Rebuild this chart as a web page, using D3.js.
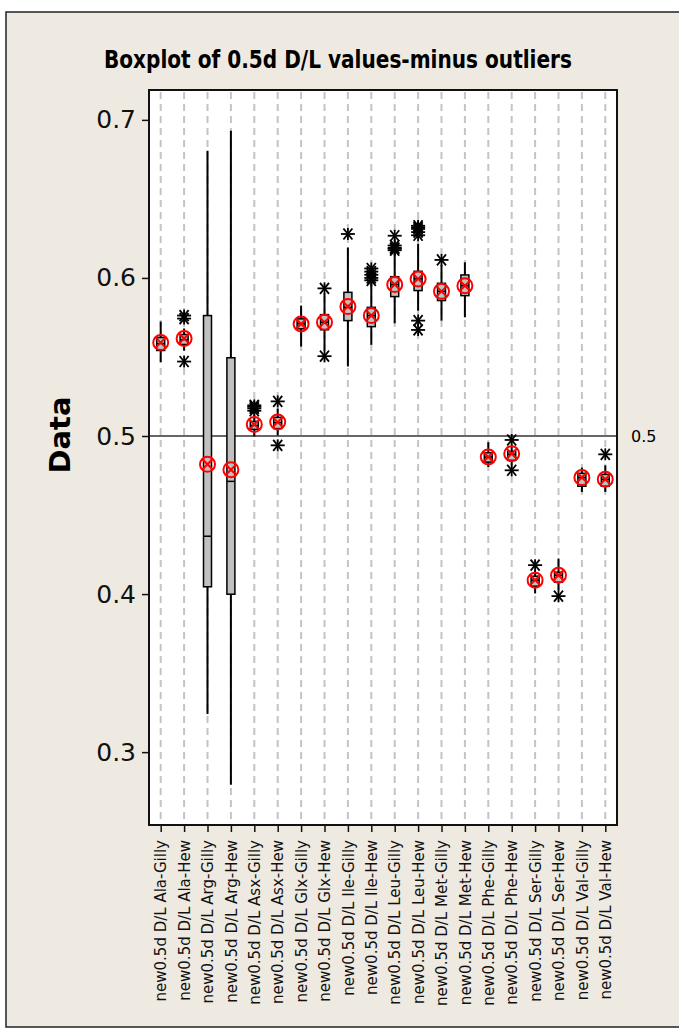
<html>
<head>
  <script src="https://d3js.org/d3.v7.min.js"></script>
  <style>
    body { margin: 0; background: white; font-family: "DejaVu Sans", sans-serif; }
  </style>
</head>
<body>
<svg id="chart" width="679" height="1033"></svg>
<script>
  // chart data
  const categories = ["Ala-Gilly", "Ala-Hew", "Arg-Gilly", "Arg-Hew", "Asx-Gilly", "Asx-Hew",
    "Glx-Gilly", "Glx-Hew", "Ile-Gilly", "Ile-Hew", "Leu-Gilly", "Leu-Hew",
    "Met-Gilly", "Met-Hew", "Phe-Gilly", "Phe-Hew", "Ser-Gilly", "Ser-Hew", "Val-Gilly", "Val-Hew"];
  const whiskerLow  = [0.5467, 0.554, 0.3241, 0.2793, 0.4997, 0.5004, 0.5566, 0.5541, 0.544, 0.5577,
                       0.5713, 0.5793, 0.573, 0.5751, 0.4804, 0.4818, 0.4004, 0.4025, 0.4646, 0.4646];
  const q1Values    = [0.5541, 0.5579, 0.4046, 0.3999, 0.5042, 0.5047, 0.5678, 0.5672, 0.573, 0.5692,
                       0.5882, 0.592, 0.5857, 0.5888, 0.4835, 0.4846, 0.405, 0.4075, 0.4682, 0.4682];
  const medians     = [0.5585, 0.561, 0.4366, 0.4713, 0.5067, 0.5085, 0.571, 0.572, 0.5814, 0.5762,
                       0.5958, 0.5994, 0.5915, 0.5951, 0.4867, 0.4885, 0.4088, 0.4119, 0.4737, 0.4726];
  const q3Values    = [0.5623, 0.5642, 0.5762, 0.5495, 0.5092, 0.5118, 0.5741, 0.5768, 0.5909, 0.5814,
                       0.6008, 0.6042, 0.5966, 0.6019, 0.4894, 0.4903, 0.4113, 0.4138, 0.4764, 0.4757];
  const whiskerHigh = [0.5724, 0.568, 0.6804, 0.6931, 0.5136, 0.5174, 0.5825, 0.5901, 0.6193, 0.5972,
                       0.6153, 0.6217, 0.608, 0.6099, 0.4961, 0.4935, 0.4151, 0.4225, 0.48, 0.4814];
  const means       = [0.5591, 0.5617, 0.4821, 0.4787, 0.5073, 0.5088, 0.5709, 0.572, 0.5819, 0.5762,
                       0.5958, 0.5994, 0.5915, 0.5951, 0.4867, 0.4888, 0.4088, 0.4119, 0.4737, 0.4726];
  const outliers = [
    [],
    [0.5743, 0.5762, 0.5471],
    [],
    [],
    [0.5194, 0.5175, 0.516, 0.5185],
    [0.5219, 0.4941],
    [],
    [0.5934, 0.5505],
    [0.6278],
    [0.606, 0.604, 0.602, 0.600, 0.5985],
    [0.6267, 0.6205, 0.619, 0.6175, 0.6185],
    [0.633, 0.631, 0.629, 0.627, 0.632, 0.573, 0.5671],
    [0.6114],
    [],
    [],
    [0.4975, 0.4783],
    [0.4183],
    [0.3987],
    [],
    [0.4884]
  ];
  const yTicks = [0.3, 0.4, 0.5, 0.6, 0.7];
  const refValue = 0.5;

  const svg = d3.select("#chart");
  const plot = { left: 149, top: 90, right: 617, bottom: 825 };

  // outer panel
  svg.append("rect").attr("x", 6).attr("y", 12).attr("width", 700).attr("height", 1015)
     .attr("fill", "#eeeae1").attr("stroke", "#222").attr("stroke-width", 1.5);

  svg.append("text")
     .attr("x", 338).attr("y", 68)
     .attr("text-anchor", "middle")
     .attr("textLength", 468).attr("lengthAdjust", "spacingAndGlyphs")
     .style("font-family", "'DejaVu Sans Condensed', sans-serif")
     .style("font-weight", "700").style("font-size", "24px")
     .text("Boxplot of 0.5d D/L values-minus outliers");

  const yScale = d3.scaleLinear().domain([0.2539, 0.7189]).range([plot.bottom, plot.top]);
  const xScale = d3.scalePoint().domain(categories).range([plot.left, plot.right]).padding(0.5);

  svg.append("rect").attr("x", plot.left).attr("y", plot.top)
     .attr("width", plot.right - plot.left).attr("height", plot.bottom - plot.top)
     .attr("fill", "white");

  // dashed grid at each category
  svg.append("g").selectAll("line").data(categories).join("line")
     .attr("x1", d => xScale(d)).attr("x2", d => xScale(d))
     .attr("y1", plot.top + 2).attr("y2", plot.bottom)
     .attr("stroke", "#c4c4c4").attr("stroke-width", 2).attr("stroke-dasharray", "7,5");

  // reference line
  svg.append("line").attr("x1", plot.left).attr("x2", plot.right)
     .attr("y1", yScale(refValue)).attr("y2", yScale(refValue))
     .attr("stroke", "#333").attr("stroke-width", 1.3);
  svg.append("text").attr("x", 631).attr("y", yScale(refValue)).attr("dy", "0.35em")
     .style("font-size", "16px").text("0.5");

  // axes
  const leftAxis = d3.axisLeft(yScale).tickValues(yTicks).tickFormat(d3.format(".1f")).tickSize(7).tickPadding(6);
  const ga = svg.append("g").attr("transform", `translate(${plot.left},0)`).call(leftAxis);
  ga.select(".domain").remove();
  ga.selectAll("line").attr("stroke", "#111").attr("stroke-width", 1.5);
  ga.selectAll("text").style("font-size", "25px").style("font-family", "'DejaVu Sans', sans-serif").attr("fill", "#111");

  const bottomAxis = d3.axisBottom(xScale).tickSize(7).tickFormat(d => "new0.5d D/L " + d);
  const gb = svg.append("g").attr("transform", `translate(0,${plot.bottom})`).call(bottomAxis);
  gb.select(".domain").remove();
  gb.selectAll("line").attr("stroke", "#111").attr("stroke-width", 1.5);
  gb.selectAll("text")
    .style("font-size", "15px").style("font-family", "'DejaVu Sans', sans-serif").attr("fill", "#111")
    .attr("transform", "rotate(-90)")
    .attr("text-anchor", "end")
    .attr("x", -15).attr("y", 0).attr("dy", "0.35em");

  svg.append("text")
     .attr("transform", "translate(70,435) rotate(-90)")
     .attr("text-anchor", "middle")
     .style("font-size", "29px").style("font-weight", "700")
     .text("Data");

  // boxes
  const boxes = categories.map((c, i) => ({
    name: c, lo: whiskerLow[i], q1: q1Values[i], med: medians[i], q3: q3Values[i],
    hi: whiskerHigh[i], mean: means[i], out: outliers[i]
  }));
  const boxW = 8;
  const g = svg.append("g");
  const bx = g.selectAll("g.box").data(boxes).join("g").attr("class", "box")
     .attr("transform", d => `translate(${xScale(d.name)},0)`);

  bx.append("line").attr("y1", d => yScale(d.hi)).attr("y2", d => yScale(d.lo))
     .attr("stroke", "#000").attr("stroke-width", 2);
  bx.append("rect").attr("x", -boxW / 2).attr("width", boxW)
     .attr("y", d => yScale(d.q3)).attr("height", d => yScale(d.q1) - yScale(d.q3))
     .attr("fill", "#c0c0c0").attr("stroke", "#000").attr("stroke-width", 1.5);
  bx.append("line").attr("x1", -boxW / 2).attr("x2", boxW / 2)
     .attr("y1", d => yScale(d.med)).attr("y2", d => yScale(d.med))
     .attr("stroke", "#000").attr("stroke-width", 1.5);

  // outlier asterisks
  const star = bx.selectAll("g.out").data(d => d.out).join("g").attr("class", "out")
     .attr("transform", d => `translate(0,${yScale(d)})`);
  [[-7, 0, 7, 0], [-4.5, -5.5, 4.5, 5.5], [-4.5, 5.5, 4.5, -5.5], [0, -6, 0, 6]].forEach(s => {
    star.append("line").attr("x1", s[0]).attr("y1", s[1]).attr("x2", s[2]).attr("y2", s[3])
        .attr("stroke", "#000").attr("stroke-width", 1.8);
  });

  // mean symbol: red circle with cross
  const mean = bx.append("g").attr("transform", d => `translate(0,${yScale(d.mean)})`);
  mean.append("circle").attr("r", 7.5).attr("fill", "none").attr("stroke", "#ff0000").attr("stroke-width", 2);
  mean.append("path").attr("d", "M-5,-5L5,5M-5,5L5,-5").attr("stroke", "#ff0000").attr("stroke-width", 2);

  // plot frame
  svg.append("rect").attr("x", plot.left).attr("y", plot.top)
     .attr("width", plot.right - plot.left).attr("height", plot.bottom - plot.top)
     .attr("fill", "none").attr("stroke", "#111").attr("stroke-width", 2);
</script>
</body>
</html>
